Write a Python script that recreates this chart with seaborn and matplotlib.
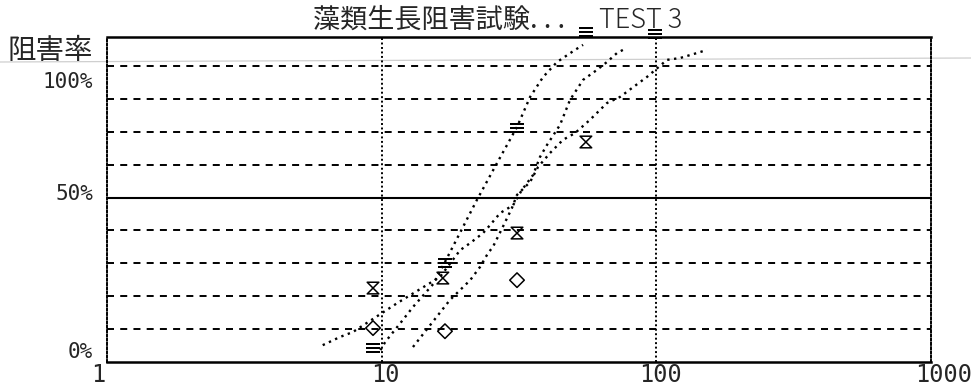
import matplotlib
matplotlib.use("Agg")
import matplotlib.pyplot as plt
import matplotlib.transforms as mtransforms
from matplotlib.path import Path
from matplotlib.lines import Line2D
from matplotlib.ticker import NullLocator
import seaborn as sns

# Fitted concentration-response curves (concentration, inhibition %)
curve1_conc = [9.9, 10.3, 11.7, 13.0, 15.4, 17.0, 22.2, 26.3, 31.1, 34.7, 38.7, 43.5, 50.6, 54.1]
curve1_inh = [-8.0, -4.9, 2.3, 8.4, 17.1, 25.5, 49.0, 63.1, 76.8, 88.2, 95.8, 101.5, 106.1, 108.0]

curve2_conc = [6.1, 7.05, 7.86, 11.4, 15.0, 16.3, 19.3, 21.0, 23.4, 24.8, 27.0, 30.1, 32.4,
               35.6, 37.7, 40.0, 44.6, 48.5, 54.1, 60.8, 66.1, 71.9, 75.6]
curve2_inh = [-6.1, -3.0, -1.1, 9.9, 17.5, 19.8, 30.0, 32.7, 36.5, 39.5, 44.1, 47.1, 52.9,
              58.6, 65.4, 70.0, 77.6, 87.1, 94.7, 98.5, 101.5, 104.9, 106.1]

curve3_conc = [13.0, 17.7, 21.0, 22.8, 24.4, 25.4, 27.6, 29.8, 31.1, 34.7, 37.1, 41.0, 45.7,
               50.6, 57.3, 66.1, 73.7, 81.5, 92.4, 109.3, 121.9, 140.5, 152.9]
curve3_inh = [-6.8, 11.0, 18.6, 23.6, 28.9, 31.2, 38.8, 46.0, 51.0, 55.9, 61.6, 66.9, 71.9,
              74.5, 79.5, 85.9, 88.2, 91.6, 95.8, 102.3, 103.0, 104.9, 106.1]

# Measured inhibition at each test concentration
seriesA_conc = [9.3, 17.0, 31.1, 55.4, 98.8]
seriesA_inh = [-7.2, 25.1, 76.4, 113.0, 112.0]
seriesB_conc = [9.3, 16.7, 31.1, 55.4]
seriesB_inh = [15.6, 19.4, 36.5, 71.1]
seriesC_conc = [9.3, 17.0, 31.1]
seriesC_inh = [0.4, -0.8, 18.6]

grid_levels = [0, 12.5, 25, 37.5, 62.5, 75, 87.5, 100]
x_ticks = [1, 10, 100, 1000]
x_tick_labels = ["1", "10", "100", "1000"]
y_ticks = [0, 50, 100]
y_tick_labels = ["0%", "50%", "100%"]
y_axis_title = "阻害率"
title_main = "藻類生長阻害試験. . ."
title_test = "TEST 3"

sns.set_style("white")
plt.rcParams["font.family"] = ["Noto Sans CJK JP", "DejaVu Sans"]

fig = plt.figure(figsize=(9.71, 3.89), dpi=100)
ax = fig.add_axes([107 / 971, 1 - 362 / 389, (931 - 107) / 971, (362 - 37) / 389])
ax.patch.set_alpha(0)
ax.set_xscale("log")
ax.set_xlim(1, 1000)
ax.set_ylim(-12.5, 111)

# faint ruled line running across the sheet
fig.add_artist(Line2D([0, 1], [1 - 62 / 389, 1 - 58 / 389], transform=fig.transFigure,
                      color="#cfcfcf", lw=0.9, zorder=0))

# grid: dashed every 12.5 %, solid at 50 %, dotted decades
for lvl in grid_levels:
    ax.axhline(lvl, color="black", lw=1.4, linestyle=(0, (3.6, 3.2)), zorder=1)
ax.axhline(50, color="black", lw=1.5, zorder=1)
for xv in [10, 100]:
    ax.axvline(xv, color="black", lw=1.4, linestyle=(0, (1, 1.3)), zorder=1)

dotted = (0, (1.0, 1.9))
for cx, cy in [(curve1_conc, curve1_inh), (curve2_conc, curve2_inh), (curve3_conc, curve3_inh)]:
    sns.lineplot(x=cx, y=cy, ax=ax, color="black", lw=1.7, linestyle=dotted,
                 estimator=None, sort=False, zorder=3)
    ax.lines[-1].set_clip_on(False)

hourglass = Path([(-1, 1), (1, 1), (-1, -1), (1, -1), (-1, 1)],
                 [Path.MOVETO, Path.LINETO, Path.LINETO, Path.LINETO, Path.CLOSEPOLY])

sns.scatterplot(x=seriesA_conc, y=seriesA_inh, ax=ax, marker=r"$\equiv$", s=110,
                color="black", linewidth=0, zorder=4, clip_on=False)
sns.scatterplot(x=seriesB_conc, y=seriesB_inh, ax=ax, marker=hourglass, s=70,
                facecolors="none", edgecolor="black", linewidth=1.1, zorder=4)
sns.scatterplot(x=seriesC_conc, y=seriesC_inh, ax=ax, marker="D", s=55,
                facecolors="none", edgecolor="black", linewidth=1.1, zorder=4)

# frame
for side in ["top", "bottom"]:
    ax.spines[side].set_linewidth(1.8)
    ax.spines[side].set_color("black")
for side in ["left", "right"]:
    ax.spines[side].set_linewidth(1.4)
    ax.spines[side].set_linestyle((0, (1, 1.2)))
    ax.spines[side].set_color("black")

ax.xaxis.set_minor_locator(NullLocator())
ax.set_xticks(x_ticks)
ax.set_xticklabels(x_tick_labels, fontfamily="DejaVu Sans Mono", fontsize=17)
ax.set_yticks(y_ticks)
ax.set_yticklabels(y_tick_labels, fontfamily="DejaVu Sans Mono", fontsize=15)
ax.tick_params(axis="both", length=0)
ax.tick_params(axis="x", pad=1)
ax.tick_params(axis="y", pad=10)

# nudge the labels the way the plotter placed them (points)
x_shift = [-6, 3, 3, 9]
for lab, dx in zip(ax.get_xticklabels(), x_shift):
    lab.set_transform(lab.get_transform() + mtransforms.ScaledTranslation(dx / 72, 0, fig.dpi_scale_trans))
y_shift = [-15, 4, -10]
for lab, dy in zip(ax.get_yticklabels(), y_shift):
    lab.set_transform(lab.get_transform() + mtransforms.ScaledTranslation(0, dy / 72, fig.dpi_scale_trans))

ax.annotate(y_axis_title, xy=(0, 1), xycoords="axes fraction", xytext=(-10, -10),
            textcoords="offset points", ha="right", va="center", fontsize=20.5)

fig.text(313 / 971, 1 - 28 / 389, title_main, ha="left", va="baseline", fontsize=19.5)
fig.text(599 / 971, 1 - 28 / 389, title_test, ha="left", va="baseline", fontsize=19.5,
         fontweight="light")

fig.savefig("out.png", dpi=100)
